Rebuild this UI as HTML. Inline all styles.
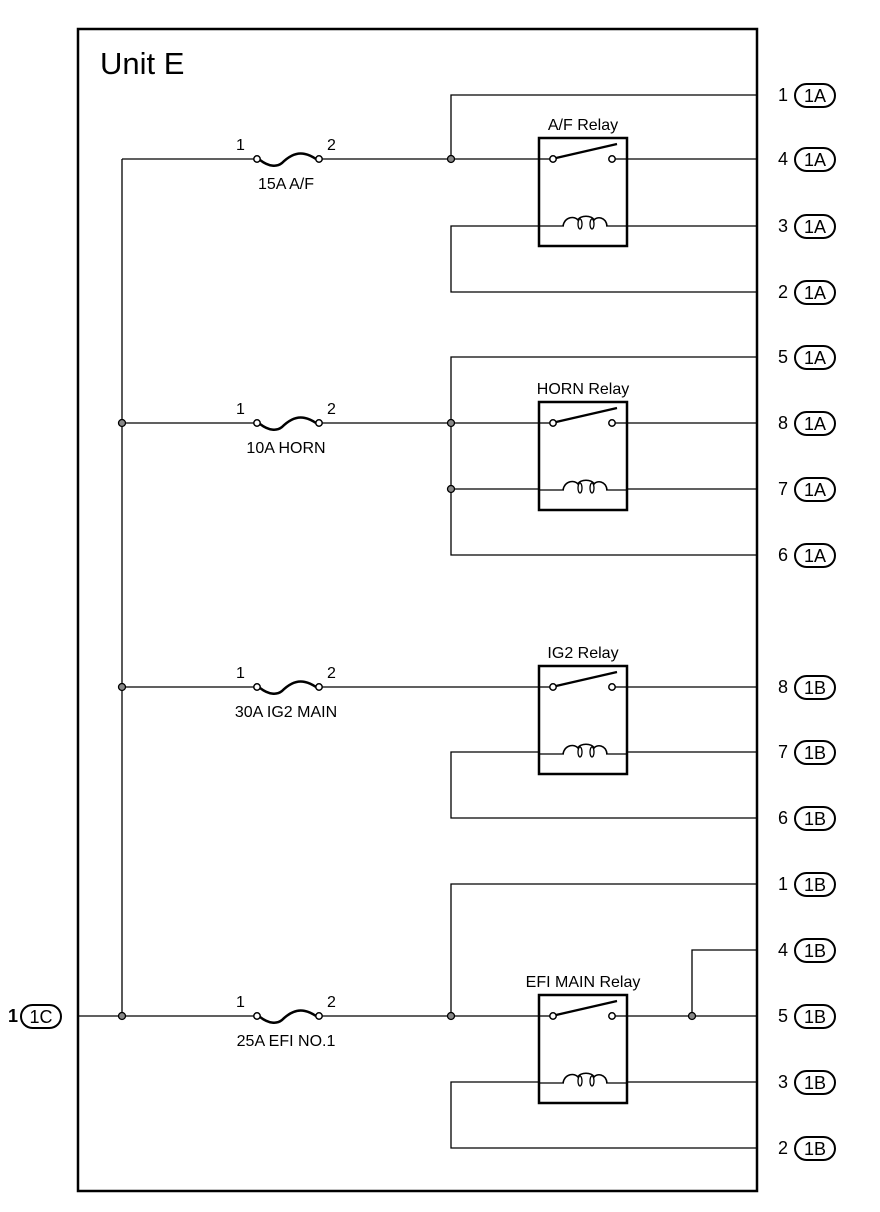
<!DOCTYPE html>
<html><head><meta charset="utf-8"><style>
html,body{margin:0;padding:0;background:#fff;}
svg{display:block;}
text{font-family:"Liberation Sans",Arial,sans-serif;fill:#000;}
</style></head><body>
<svg width="880" height="1212" viewBox="0 0 880 1212" xmlns="http://www.w3.org/2000/svg">
<defs>
<g id="fuse">
<circle cx="0" cy="0" r="3.2" fill="#fff" stroke="#000" stroke-width="1.5"/>
<circle cx="62" cy="0" r="3.2" fill="#fff" stroke="#000" stroke-width="1.5"/>
<path d="M3,1 C12,8 20,8 25,4 C32,-3 40,-7 48,-5 C53,-4 56,-2 59,0" fill="none" stroke="#000" stroke-width="2.5"/>
</g>
<g id="relay">
<rect x="539" y="0" width="88" height="108" fill="#fff" stroke="#000" stroke-width="2.5"/>
<line x1="539" y1="21" x2="550" y2="21" stroke="#000" stroke-width="1.3"/>
<line x1="615" y1="21" x2="627" y2="21" stroke="#000" stroke-width="1.3"/>
<line x1="539" y1="88" x2="564" y2="88" stroke="#000" stroke-width="1.3"/>
<line x1="606" y1="88" x2="627" y2="88" stroke="#000" stroke-width="1.3"/>
<circle cx="553" cy="21" r="3.2" fill="#fff" stroke="#000" stroke-width="1.5"/>
<circle cx="612" cy="21" r="3.2" fill="#fff" stroke="#000" stroke-width="1.5"/>
<line x1="556" y1="20" x2="617" y2="6" stroke="#000" stroke-width="2.2"/>
<path d="M563,88 C565,78 575,78 578,82 C580,77 592,77 594,82 C597,78 606,79 607,88" fill="none" stroke="#000" stroke-width="1.6"/>
<ellipse cx="580" cy="86" rx="2" ry="5" fill="none" stroke="#000" stroke-width="1.3"/>
<ellipse cx="592" cy="86" rx="2" ry="5" fill="none" stroke="#000" stroke-width="1.3"/>
</g>
<g id="dot"><circle r="3.5" fill="#888" stroke="#000" stroke-width="1.3"/></g>
</defs>

<rect x="78" y="29" width="679" height="1162" fill="none" stroke="#000" stroke-width="2.5"/>
<text x="100" y="74" font-size="31">Unit E</text>

<g stroke="#000" stroke-width="1.3" fill="none">
<line x1="122" y1="159" x2="122" y2="1016"/>
<line x1="78" y1="1016" x2="255" y2="1016"/>
<line x1="122" y1="159" x2="255" y2="159"/>
<line x1="122" y1="423" x2="255" y2="423"/>
<line x1="122" y1="687" x2="255" y2="687"/>
<line x1="320" y1="159" x2="550" y2="159"/>
<line x1="320" y1="423" x2="550" y2="423"/>
<line x1="320" y1="687" x2="550" y2="687"/>
<line x1="320" y1="1016" x2="550" y2="1016"/>
<line x1="615" y1="159" x2="757" y2="159"/>
<line x1="615" y1="423" x2="757" y2="423"/>
<line x1="615" y1="687" x2="757" y2="687"/>
<line x1="615" y1="1016" x2="757" y2="1016"/>
<polyline points="757,95 451,95 451,159"/>
<polyline points="757,226 451,226 451,292 757,292"/>
<polyline points="757,357 451,357 451,555 757,555"/>
<line x1="451" y1="489" x2="757" y2="489"/>
<polyline points="757,752 451,752 451,818 757,818"/>
<polyline points="757,884 451,884 451,1016"/>
<polyline points="757,950 692,950 692,1016"/>
<polyline points="757,1082 451,1082 451,1148 757,1148"/>
</g>

<use href="#relay" y="138"/>
<use href="#relay" y="402"/>
<use href="#relay" y="666"/>
<use href="#relay" y="995"/>

<use href="#fuse" x="257" y="159"/>
<use href="#fuse" x="257" y="423"/>
<use href="#fuse" x="257" y="687"/>
<use href="#fuse" x="257" y="1016"/>

<use href="#dot" x="451" y="159"/>
<use href="#dot" x="122" y="423"/>
<use href="#dot" x="451" y="423"/>
<use href="#dot" x="451" y="489"/>
<use href="#dot" x="122" y="687"/>
<use href="#dot" x="122" y="1016"/>
<use href="#dot" x="451" y="1016"/>
<use href="#dot" x="692" y="1016"/>

<g font-size="16">
<text x="236" y="150">1</text><text x="327" y="150">2</text>
<text x="236" y="414">1</text><text x="327" y="414">2</text>
<text x="236" y="678">1</text><text x="327" y="678">2</text>
<text x="236" y="1007">1</text><text x="327" y="1007">2</text>
<text x="286" y="189" text-anchor="middle">15A A/F</text>
<text x="286" y="453" text-anchor="middle">10A HORN</text>
<text x="286" y="717" text-anchor="middle">30A IG2 MAIN</text>
<text x="286" y="1046" text-anchor="middle">25A EFI NO.1</text>
<text x="583" y="130" text-anchor="middle">A/F Relay</text>
<text x="583" y="394" text-anchor="middle">HORN Relay</text>
<text x="583" y="658" text-anchor="middle">IG2 Relay</text>
<text x="583" y="987" text-anchor="middle">EFI MAIN Relay</text>
</g>

<g font-size="18">
<text x="778" y="101">1</text><rect x="795" y="84" width="40" height="23" rx="11.5" fill="#fff" stroke="#000" stroke-width="2"/><text x="815" y="102" text-anchor="middle">1A</text>
<text x="778" y="165">4</text><rect x="795" y="148" width="40" height="23" rx="11.5" fill="#fff" stroke="#000" stroke-width="2"/><text x="815" y="166" text-anchor="middle">1A</text>
<text x="778" y="232">3</text><rect x="795" y="215" width="40" height="23" rx="11.5" fill="#fff" stroke="#000" stroke-width="2"/><text x="815" y="233" text-anchor="middle">1A</text>
<text x="778" y="298">2</text><rect x="795" y="281" width="40" height="23" rx="11.5" fill="#fff" stroke="#000" stroke-width="2"/><text x="815" y="299" text-anchor="middle">1A</text>
<text x="778" y="363">5</text><rect x="795" y="346" width="40" height="23" rx="11.5" fill="#fff" stroke="#000" stroke-width="2"/><text x="815" y="364" text-anchor="middle">1A</text>
<text x="778" y="429">8</text><rect x="795" y="412" width="40" height="23" rx="11.5" fill="#fff" stroke="#000" stroke-width="2"/><text x="815" y="430" text-anchor="middle">1A</text>
<text x="778" y="495">7</text><rect x="795" y="478" width="40" height="23" rx="11.5" fill="#fff" stroke="#000" stroke-width="2"/><text x="815" y="496" text-anchor="middle">1A</text>
<text x="778" y="561">6</text><rect x="795" y="544" width="40" height="23" rx="11.5" fill="#fff" stroke="#000" stroke-width="2"/><text x="815" y="562" text-anchor="middle">1A</text>
<text x="778" y="693">8</text><rect x="795" y="676" width="40" height="23" rx="11.5" fill="#fff" stroke="#000" stroke-width="2"/><text x="815" y="694" text-anchor="middle">1B</text>
<text x="778" y="758">7</text><rect x="795" y="741" width="40" height="23" rx="11.5" fill="#fff" stroke="#000" stroke-width="2"/><text x="815" y="759" text-anchor="middle">1B</text>
<text x="778" y="824">6</text><rect x="795" y="807" width="40" height="23" rx="11.5" fill="#fff" stroke="#000" stroke-width="2"/><text x="815" y="825" text-anchor="middle">1B</text>
<text x="778" y="890">1</text><rect x="795" y="873" width="40" height="23" rx="11.5" fill="#fff" stroke="#000" stroke-width="2"/><text x="815" y="891" text-anchor="middle">1B</text>
<text x="778" y="956">4</text><rect x="795" y="939" width="40" height="23" rx="11.5" fill="#fff" stroke="#000" stroke-width="2"/><text x="815" y="957" text-anchor="middle">1B</text>
<text x="778" y="1022">5</text><rect x="795" y="1005" width="40" height="23" rx="11.5" fill="#fff" stroke="#000" stroke-width="2"/><text x="815" y="1023" text-anchor="middle">1B</text>
<text x="778" y="1088">3</text><rect x="795" y="1071" width="40" height="23" rx="11.5" fill="#fff" stroke="#000" stroke-width="2"/><text x="815" y="1089" text-anchor="middle">1B</text>
<text x="778" y="1154">2</text><rect x="795" y="1137" width="40" height="23" rx="11.5" fill="#fff" stroke="#000" stroke-width="2"/><text x="815" y="1155" text-anchor="middle">1B</text>
<text x="8" y="1022" font-weight="bold">1</text><rect x="21" y="1005" width="40" height="23" rx="11.5" fill="#fff" stroke="#000" stroke-width="2"/><text x="41" y="1023" text-anchor="middle">1C</text>
</g>
</svg>
</body></html>
